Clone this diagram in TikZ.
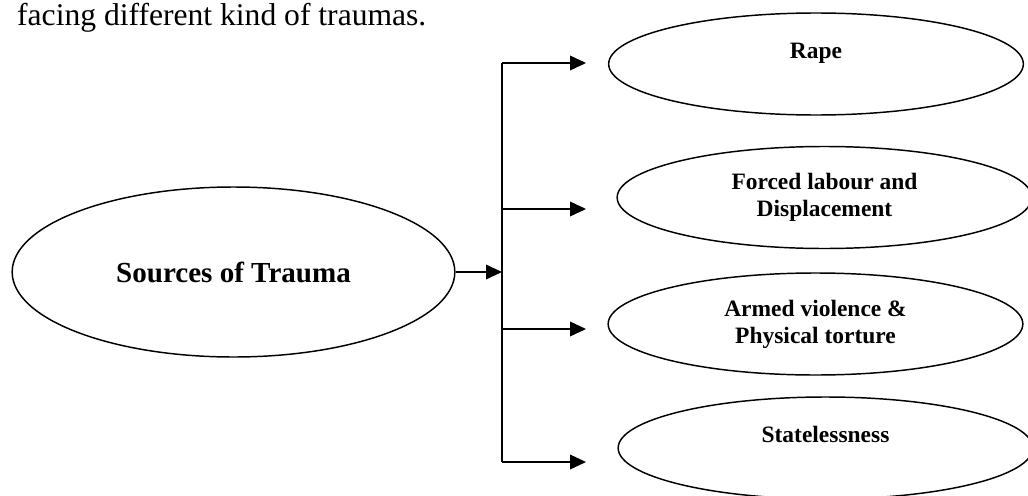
\documentclass[tikz,border=0pt]{standalone}
\usepackage{fontspec}
\setmainfont{Liberation Serif}
\usetikzlibrary{positioning,shapes.geometric,arrows.meta}
\tikzset{srcell/.style={ellipse,draw,line width=1.1pt,minimum width=332pt,minimum height=127.5pt,
		font=\bfseries\fontsize{21.8}{26}\selectfont},
	 leafell/.style={ellipse,draw,line width=1.1pt,minimum width=311pt,minimum height=76.5pt,
		align=center,font=\bfseries\fontsize{17.6}{20.3}\selectfont},
	 toptext/.style={text height=12pt,text depth=21pt},
	 arr/.style={line width=1.1pt,-{Triangle[length=12pt,width=11pt]}}
	 }

\begin{document}
\begin{tikzpicture}[x=0.75pt,y=-0.75pt,line width=1.1pt] % sources of trauma
	\useasboundingbox (0,0) rectangle (1028,496);
	\node[anchor=base west,font=\fontsize{23.7}{28}\selectfont] (intro) at (12,25) {facing different kind of traumas.};
	\node[srcell] (src) at (233.5,272) {Sources of Trauma};
	\node[leafell,toptext] (rape) at (816,64) {Rape};
	\node[leafell] (forced) at (824.5,197.5) {Forced labour and\\Displacement};
	\node[leafell] (armed) at (815.5,324) {Armed violence \&\\Physical torture};
	\node[leafell,toptext] (state) at (825.5,448) {Statelessness};
	\foreach \y [count=\i] in {63,209,329,462} {\coordinate (b\i) at (502,\y); \coordinate (t\i) at (586,\y);}
	\draw (b1) -- (b4);
	\foreach \i in {1,...,4} \draw[arr] (b\i) -- (t\i);
	\draw[arr] (src.east) -- (src.east -| b1);
\end{tikzpicture}
\end{document}
